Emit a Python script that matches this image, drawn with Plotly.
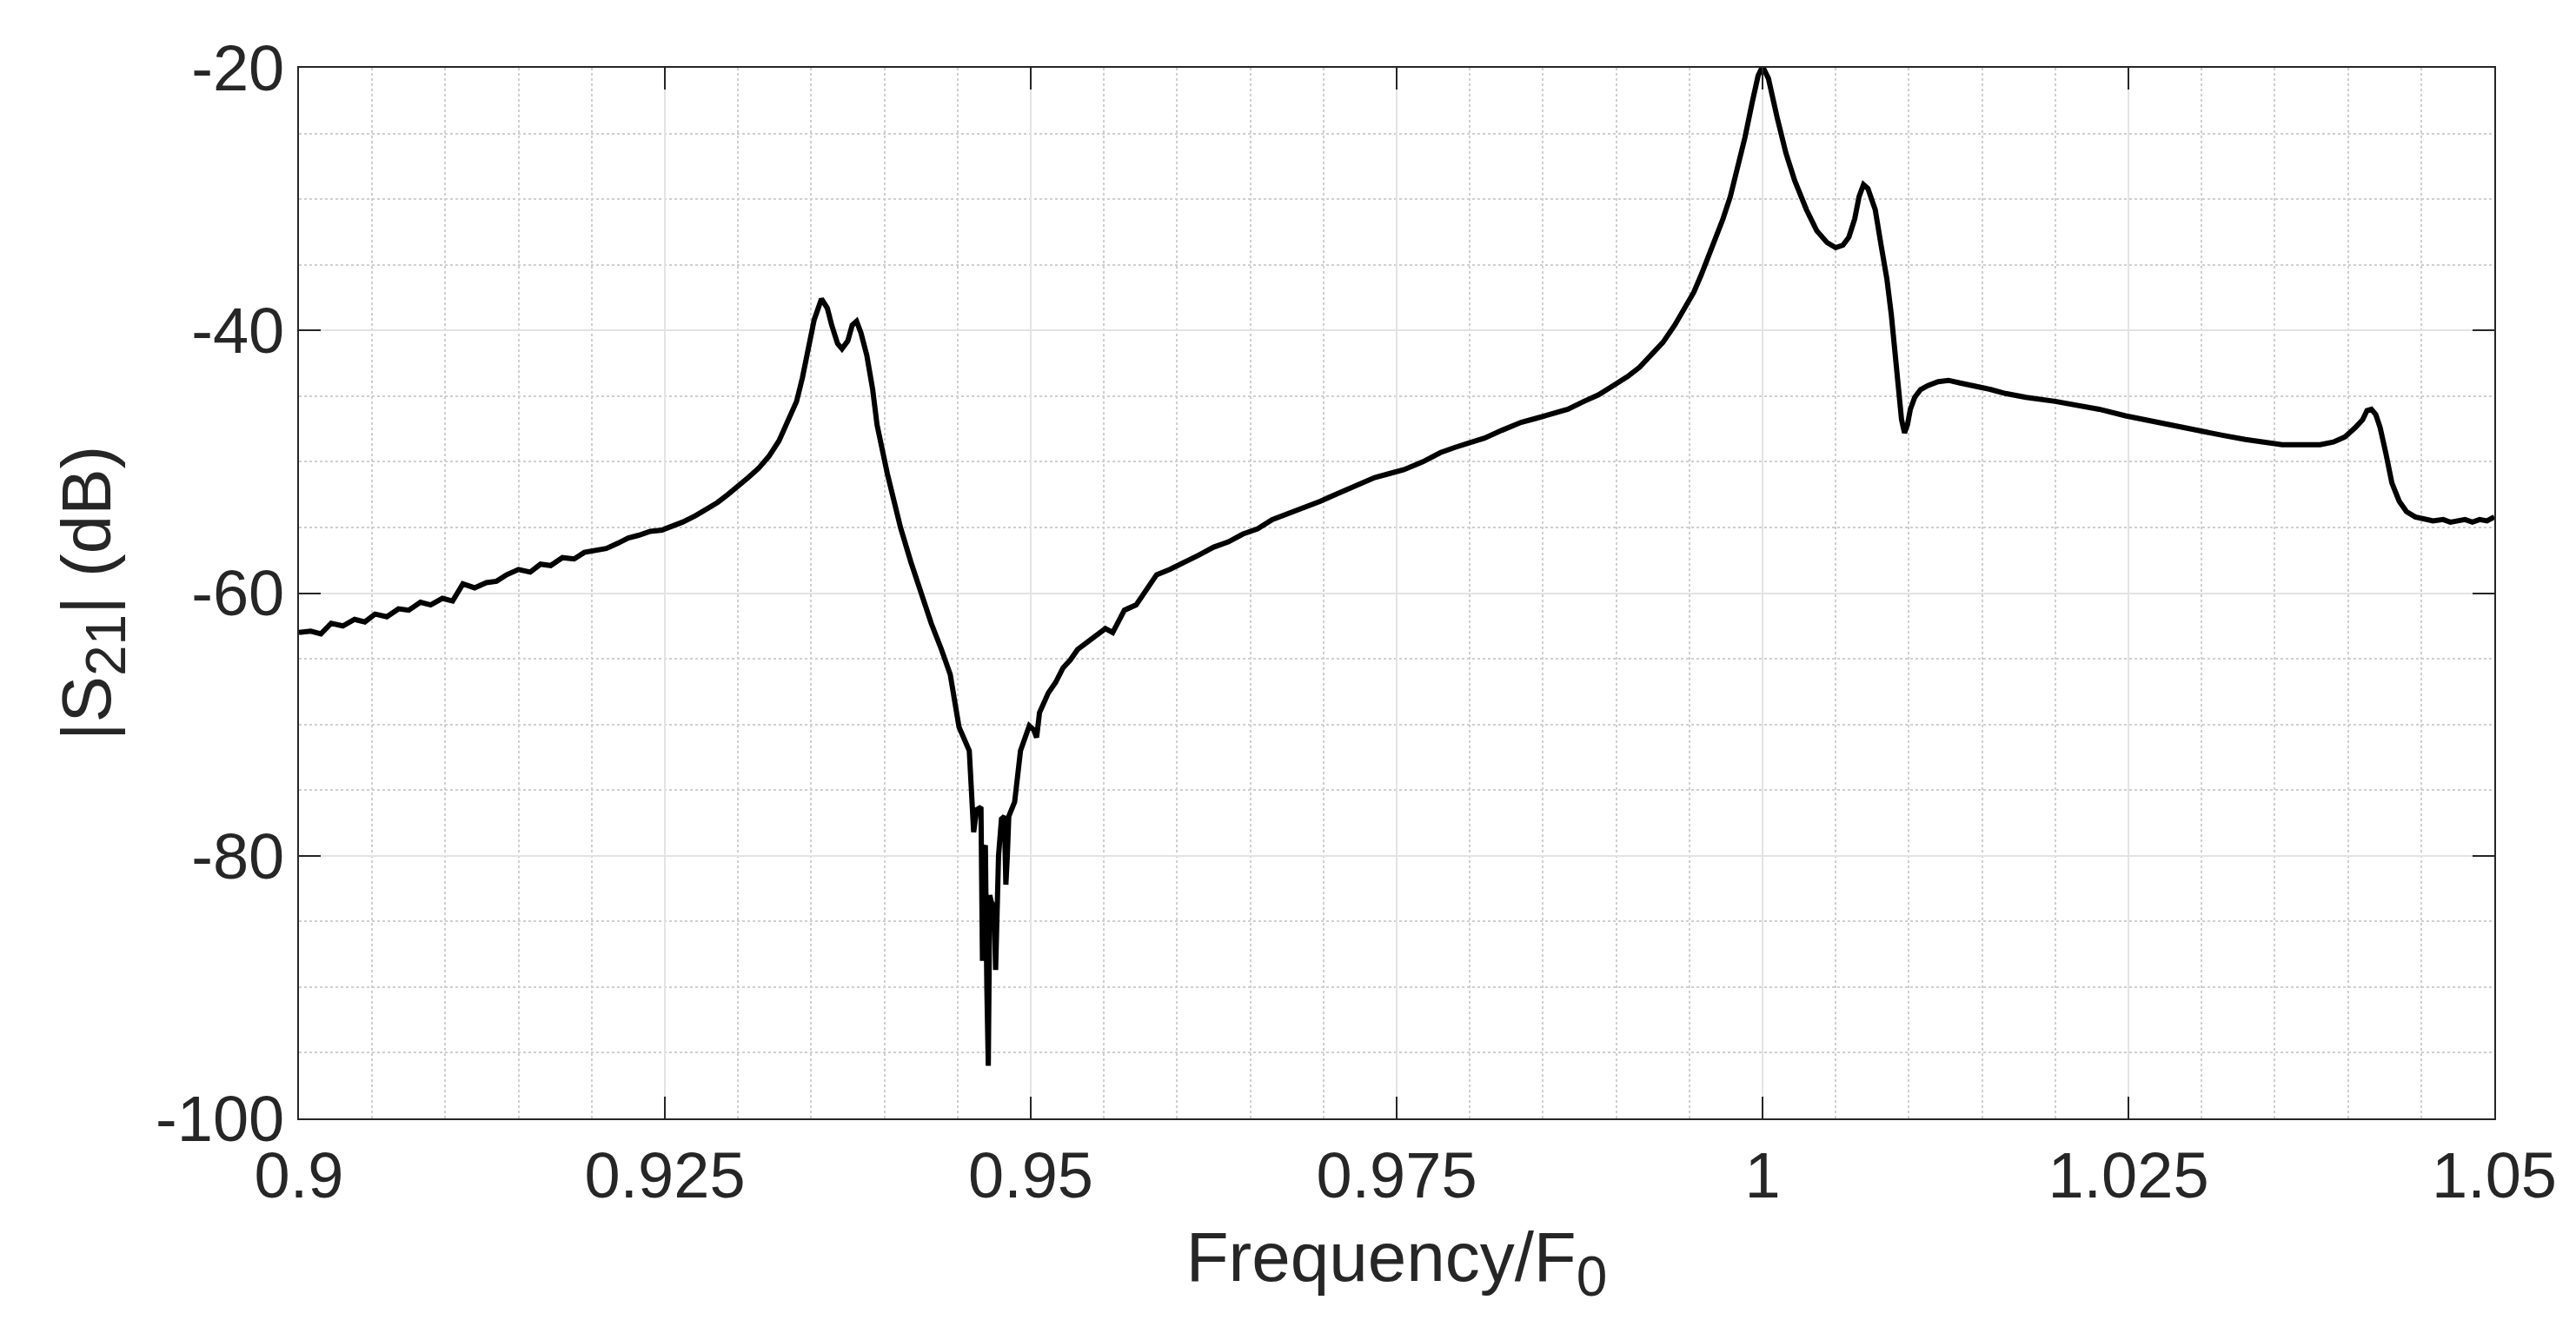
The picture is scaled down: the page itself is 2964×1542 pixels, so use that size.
import plotly.graph_objects as go

# values
freq = [
    0.9000, 0.9008, 0.9015, 0.9022, 0.9030, 0.9038, 0.9045, 0.9052, 0.9060, 0.9068,
    0.9075, 0.9083, 0.9090, 0.9098, 0.9105, 0.9112, 0.9120, 0.9128, 0.9135, 0.9142,
    0.9150, 0.9158, 0.9165, 0.9172, 0.9180, 0.9188, 0.9195, 0.9202, 0.9210, 0.9218,
    0.9225, 0.9232, 0.9240, 0.9248, 0.9255, 0.9262, 0.9271, 0.9280, 0.9286, 0.9293,
    0.9300, 0.9307, 0.9314, 0.9321, 0.9328, 0.9334, 0.9340, 0.9344, 0.9348, 0.9352,
    0.9357, 0.9361, 0.9364, 0.9368, 0.9371, 0.9375, 0.9378, 0.9381, 0.9384, 0.9388,
    0.9392, 0.9395, 0.9402, 0.9411, 0.9418, 0.9425, 0.9432, 0.9439, 0.9445, 0.9451,
    0.9455, 0.9458, 0.9461, 0.9463, 0.9466, 0.9467, 0.9468, 0.9469, 0.9470, 0.9471,
    0.9472, 0.9473, 0.9475, 0.9476, 0.9478, 0.9480, 0.9482, 0.9483, 0.9484, 0.9485,
    0.9489, 0.9493, 0.9499, 0.9502, 0.9504, 0.9506, 0.9512, 0.9517, 0.9522, 0.9527,
    0.9532, 0.9540, 0.9546, 0.9551, 0.9556, 0.9564, 0.9572, 0.9580, 0.9586, 0.9595,
    0.9605, 0.9615, 0.9625, 0.9635, 0.9645, 0.9655, 0.9665, 0.9675, 0.9685, 0.9698,
    0.9710, 0.9722, 0.9735, 0.9745, 0.9755, 0.9768, 0.9780, 0.9790, 0.9800, 0.9810,
    0.9822, 0.9835, 0.9845, 0.9855, 0.9867, 0.9878, 0.9888, 0.9898, 0.9908, 0.9916,
    0.9923, 0.9932, 0.9940, 0.9948, 0.9953, 0.9958, 0.9963, 0.9968, 0.9973, 0.9978,
    0.9983, 0.9988, 0.9993, 0.9997, 1.0000, 1.0004, 1.0010, 1.0016, 1.0022, 1.0030,
    1.0037, 1.0044, 1.0050, 1.0055, 1.0059, 1.0063, 1.0066, 1.0069, 1.0072, 1.0077,
    1.0081, 1.0085, 1.0088, 1.0090, 1.0093, 1.0095, 1.0097, 1.0099, 1.0101, 1.0104,
    1.0108, 1.0113, 1.0120, 1.0127, 1.0135, 1.0145, 1.0156, 1.0166, 1.0180, 1.0200,
    1.0215, 1.0230, 1.0248, 1.0265, 1.0282, 1.0299, 1.0315, 1.0330, 1.0343, 1.0355,
    1.0368, 1.0381, 1.0390, 1.0398, 1.0405, 1.0410, 1.0413, 1.0416, 1.0419, 1.0422,
    1.0426, 1.0430, 1.0435, 1.0440, 1.0446, 1.0451, 1.0458, 1.0465, 1.0470, 1.0475,
    1.0480, 1.0485, 1.0490, 1.0495, 1.0500,
]
s21_db = [
    -63.0, -62.9, -63.1, -62.3, -62.5, -62.0, -62.2, -61.6, -61.8, -61.2,
    -61.3, -60.7, -60.9, -60.4, -60.6, -59.3, -59.6, -59.2, -59.1, -58.6,
    -58.2, -58.4, -57.8, -57.9, -57.3, -57.4, -56.9, -56.8, -56.6, -56.2,
    -55.8, -55.6, -55.3, -55.2, -54.9, -54.6, -54.1, -53.5, -53.1, -52.5,
    -51.9, -51.2, -50.5, -49.6, -48.4, -47.0, -45.4, -43.6, -41.6, -39.2,
    -37.6, -38.3, -39.6, -41.0, -41.4, -40.8, -39.6, -39.3, -40.2, -41.9,
    -44.5, -47.2, -50.9, -55.0, -57.6, -60.0, -62.3, -64.3, -66.2, -70.2,
    -71.2, -72.0, -78.2, -76.5, -76.3, -88.0, -79.5, -79.2, -90.0, -96.0,
    -83.0, -83.5, -83.9, -88.7, -80.0, -77.2, -77.0, -82.2, -80.0, -77.0,
    -75.9, -72.0, -70.1, -70.4, -71.0, -69.1, -67.6, -66.8, -65.7, -65.1,
    -64.3, -63.6, -63.2, -62.7, -63.0, -61.3, -60.9, -59.6, -58.6, -58.2,
    -57.7, -57.1, -56.5, -56.1, -55.5, -55.1, -54.4, -54.0, -53.6, -53.0,
    -52.4, -51.8, -51.2, -50.9, -50.6, -50.0, -49.3, -48.9, -48.6, -48.2,
    -47.6, -47.0, -46.7, -46.4, -46.0, -45.4, -44.9, -44.2, -43.5, -42.8,
    -42.0, -40.9, -39.6, -38.1, -37.1, -35.8, -34.4, -33.0, -31.5, -29.8,
    -27.7, -25.3, -22.6, -20.6, -19.9, -20.8, -23.8, -26.5, -28.6, -30.8,
    -32.4, -33.3, -33.7, -33.5, -32.9, -31.5, -29.8, -28.9, -29.2, -30.8,
    -33.5, -36.1, -38.8, -41.4, -44.6, -46.8, -47.8, -47.2, -46.0, -45.1,
    -44.5, -44.2, -43.9, -43.8, -44.0, -44.2, -44.5, -44.8, -45.1, -45.4,
    -45.7, -46.0, -46.5, -46.9, -47.3, -47.7, -48.0, -48.3, -48.5, -48.7,
    -48.7, -48.7, -48.5, -48.1, -47.4, -46.8, -46.1, -46.0, -46.4, -47.4,
    -49.4, -51.6, -53.0, -53.8, -54.2, -54.3, -54.5, -54.4, -54.6, -54.5,
    -54.4, -54.6, -54.4, -54.5, -54.2,
]

x_tickvals = [0.9, 0.925, 0.95, 0.975, 1.0, 1.025, 1.05]
x_ticktext = ["0.9", "0.925", "0.95", "0.975", "1", "1.025", "1.05"]
y_tickvals = [-100, -80, -60, -40, -20]
y_ticktext = ["-100", "-80", "-60", "-40", "-20"]

fig = go.Figure()
fig.add_trace(
    go.Scatter(
        x=freq,
        y=s21_db,
        mode="lines",
        line=dict(color="black", width=6),
        showlegend=False,
    )
)

font = "Liberation Sans, Arial, sans-serif"
axis_common = dict(
    showline=True,
    linecolor="#262626",
    linewidth=2,
    mirror="ticks",
    ticks="inside",
    ticklen=25,
    tickwidth=2,
    tickcolor="#262626",
    showgrid=True,
    gridcolor="#e3e3e3",
    gridwidth=2,
    zeroline=False,
    tickfont=dict(size=74, color="#262626", family=font),
)
title_font = dict(size=80, color="#262626", family=font)
sub = '<sub><span style="font-size:64px">{}</span></sub>'

fig.update_layout(
    width=2964,
    height=1542,
    paper_bgcolor="white",
    plot_bgcolor="white",
    margin=dict(l=336, r=102, t=70, b=263),
    xaxis=dict(
        range=[0.9, 1.05],
        tickvals=x_tickvals,
        ticktext=x_ticktext,
        title=dict(text="Frequency/F" + sub.format("0"), font=title_font, standoff=25),
        minor=dict(dtick=0.005, showgrid=True, gridcolor="#cfcfcf", griddash="dot", gridwidth=2),
        **axis_common,
    ),
    yaxis=dict(
        range=[-100, -20],
        tickvals=y_tickvals,
        ticktext=y_ticktext,
        title=dict(text="|S" + sub.format("21") + "| (dB)", font=title_font, standoff=25),
        minor=dict(dtick=5, showgrid=True, gridcolor="#cfcfcf", griddash="dot", gridwidth=2),
        **axis_common,
    ),
)

fig.write_html("out.html")
